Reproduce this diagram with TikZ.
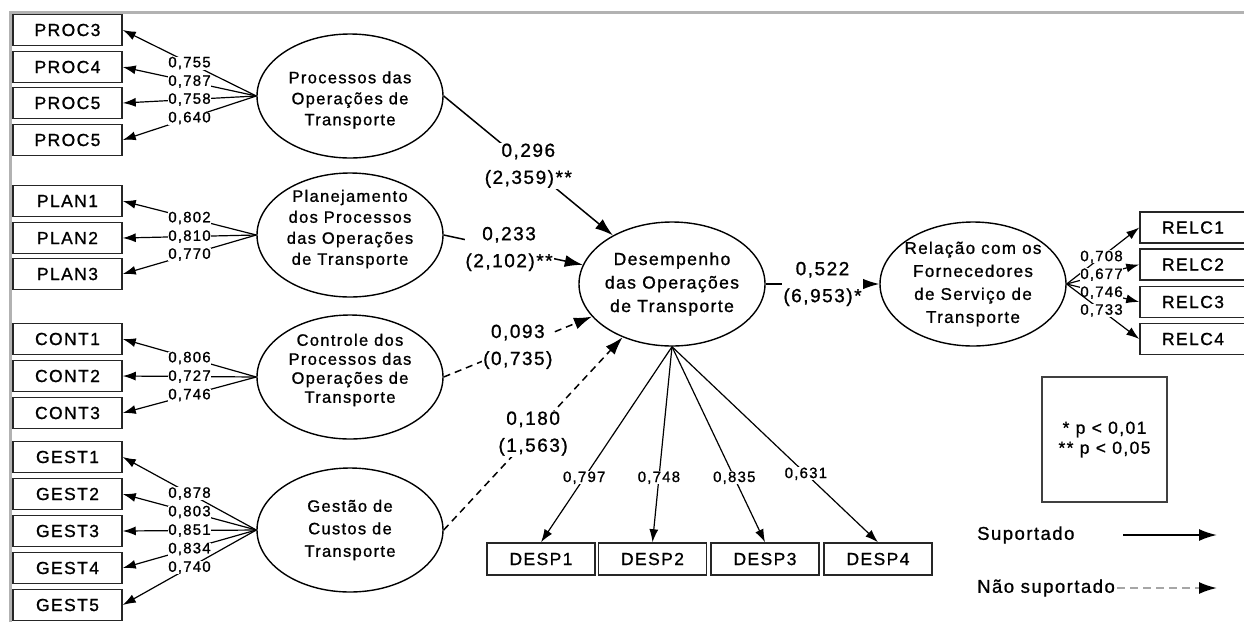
\documentclass[tikz,border=0pt]{standalone}
\usepackage{fontspec}
\setmainfont{Liberation Sans}[LetterSpace=8, FakeBold=1.0]
\usetikzlibrary{arrows.meta,shapes.geometric}
\begin{document}
\begin{tikzpicture}[x=1pt,y=-1pt,
  ind/.style={draw=black!85, line width=1.5pt, minimum width=109pt, minimum height=31pt, inner sep=0pt, font=\fontsize{17.5}{19}\selectfont},
  dind/.style={ind, minimum width=108pt, minimum height=32pt},
  lat/.style={draw=black, line width=1.4pt, ellipse, minimum width=186pt, minimum height=124pt, inner sep=0pt},
  ltxt/.style={align=center, font=\fontsize{16.5}{21}\selectfont},
  rtxt/.style={align=center, font=\fontsize{17}{23}\selectfont},
  load/.style={-{Latex[length=13pt,width=9pt]}, line width=1.2pt},
  fanlab/.style={font=\fontsize{15}{16}\selectfont, fill=white, inner sep=0.3pt},
  pathlab/.style={font=\fontsize{19}{27}\selectfont, fill=white, align=center, inner sep=1pt},
  pathln/.style={-{Latex[length=18pt,width=12pt]}, line width=1.5pt},
  nsupln/.style={pathln, dash pattern=on 7pt off 5pt},
  legtxt/.style={font=\fontsize{18.5}{20}\selectfont, inner sep=0pt}
]
\useasboundingbox (0,0) rectangle (1244,622);
\fill[white] (0,0) rectangle (1244,622);
\draw[gray!60, line width=2.5pt] (10.5,622) -- (10.5,12.5) -- (1244,12.5);

% latent variables
\node[lat, label={[ltxt, yshift=-4pt]center:Processos das\\Operações de\\Transporte}] (proc) at (350,96) {};
\node[lat, label={[ltxt, yshift=6pt]center:Planejamento\\dos Processos\\das Operações\\de Transporte}] (plan) at (350,235) {};
\node[lat, label={[ltxt, font=\fontsize{16.5}{19}\selectfont, yshift=7pt]center:Controle dos\\Processos das\\Operações de\\Transporte}] (cont) at (350,377) {};
\node[lat, label={[ltxt, font=\fontsize{16.5}{22.5}\selectfont]center:Gestão de\\Custos de\\Transporte}] (gest) at (350,530) {};
\node[lat, label={[rtxt, font=\fontsize{17.5}{23.5}\selectfont]center:Desempenho\\das Operações\\de Transporte}] (desemp) at (672,284) {};
\node[lat, label={[rtxt]center:Relação com os\\Fornecedores\\de Serviço de\\Transporte}] (rel) at (973,284) {};

% indicators
\node[ind] (proc3) at (67.5,30) {PROC3};
\node[ind] (proc4) at (67.5,67) {PROC4};
\node[ind] (proc5) at (67.5,103) {PROC5};
\node[ind] (proc5b) at (67.5,140) {PROC5};
\node[ind] (plan1) at (67.5,201) {PLAN1};
\node[ind] (plan2) at (67.5,238) {PLAN2};
\node[ind] (plan3) at (67.5,274) {PLAN3};
\node[ind] (cont1) at (67.5,339) {CONT1};
\node[ind] (cont2) at (67.5,376) {CONT2};
\node[ind] (cont3) at (67.5,413) {CONT3};
\node[ind] (gest1) at (67.5,457) {GEST1};
\node[ind] (gest2) at (67.5,494) {GEST2};
\node[ind] (gest3) at (67.5,531) {GEST3};
\node[ind] (gest4) at (67.5,568) {GEST4};
\node[ind] (gest5) at (67.5,605) {GEST5};
\node[dind] (desp1) at (541,559) {DESP1};
\node[dind] (desp2) at (652.5,559) {DESP2};
\node[dind] (desp3) at (765,559) {DESP3};
\node[dind] (desp4) at (878,559) {DESP4};
\node[ind, minimum width=106pt] (relc1) at (1193,227.5) {RELC1};
\node[ind, minimum width=106pt] (relc2) at (1193,264.5) {RELC2};
\node[ind, minimum width=106pt] (relc3) at (1193,302) {RELC3};
\node[ind, minimum width=106pt] (relc4) at (1193,339) {RELC4};

% loadings
\draw[load] (proc.west) -- node[fanlab]{0,755} (proc3.east);
\draw[load] (proc.west) -- node[fanlab]{0,787} (proc4.east);
\draw[load] (proc.west) -- node[fanlab]{0,758} (proc5.east);
\draw[load] (proc.west) -- node[fanlab]{0,640} (proc5b.east);
\draw[load] (plan.west) -- node[fanlab]{0,802} (plan1.east);
\draw[load] (plan.west) -- node[fanlab]{0,810} (plan2.east);
\draw[load] (plan.west) -- node[fanlab]{0,770} (plan3.east);
\draw[load] (cont.west) -- node[fanlab]{0,806} (cont1.east);
\draw[load] (cont.west) -- node[fanlab]{0,727} (cont2.east);
\draw[load] (cont.west) -- node[fanlab]{0,746} (cont3.east);
\draw[load] (gest.west) -- node[fanlab]{0,878} (gest1.east);
\draw[load] (gest.west) -- node[fanlab]{0,803} (gest2.east);
\draw[load] (gest.west) -- node[fanlab]{0,851} (gest3.east);
\draw[load] (gest.west) -- node[fanlab]{0,834} (gest4.east);
\draw[load] (gest.west) -- node[fanlab]{0,740} (gest5.east);
\draw[load] (desemp.south) -- node[fanlab,pos=0.67]{0,797} (desp1.north);
\draw[load] (desemp.south) -- node[fanlab,pos=0.67]{0,748} (desp2.north);
\draw[load] (desemp.south) -- node[fanlab,pos=0.67]{0,835} (desp3.north);
\draw[load] (desemp.south) -- node[fanlab,pos=0.65]{0,631} (desp4.north);
\draw[load] (rel.east) -- node[fanlab,pos=0.48]{0,708} (relc1.west);
\draw[load] (rel.east) -- node[fanlab,pos=0.48]{0,677} (relc2.west);
\draw[load] (rel.east) -- node[fanlab,pos=0.48]{0,746} (relc3.west);
\draw[load] (rel.east) -- node[fanlab,pos=0.48]{0,733} (relc4.west);

% structural paths
\draw[pathln] (proc.east) -- node[pathlab]{0,296\\(2,359)**} (desemp);
\draw[pathln] (plan.east) -- node[pathlab,pos=0.47]{0,233\\(2,102)**} (desemp);
\draw[nsupln] (cont.east) -- node[pathlab]{0,093\\(0,735)} (desemp);
\draw[nsupln] (gest.east) -- node[pathlab]{0,180\\(1,563)} (desemp);
\draw[pathln] (desemp) -- node[pathlab]{0,522\\(6,953)*} (rel);

% legend
\node[draw=black!75, line width=1.8pt, minimum width=125pt, minimum height=125pt, align=center, font=\fontsize{17.5}{20}\selectfont] (leg) at (1104.5,439.5) {* p < 0,01\\** p < 0,05};
\node[legtxt, anchor=west] (suplab) at (977,535) {Suportado};
\coordinate (s1) at (1123,535);
\coordinate (s2) at (1217,535);
\draw[pathln, line width=2pt] (s1) -- (s2);
\node[legtxt, anchor=west] (nslab) at (977,588) {Não suportado};
\coordinate (n1) at (1117,588);
\coordinate (n2) at (1217,588);
\draw[-{Latex[length=18pt,width=12pt,color=black]}, line width=2pt, gray!70, dash pattern=on 8pt off 5pt] (n1) -- (n2);
\end{tikzpicture}
\end{document}
